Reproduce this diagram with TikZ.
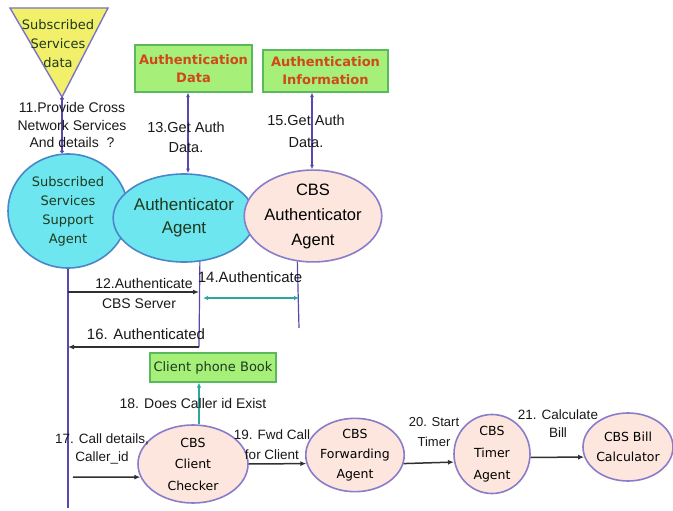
\documentclass[tikz,border=0pt]{standalone}
\usepackage{fontspec}
\setmainfont{Liberation Sans}
\newfontfamily\agentfont{DejaVu Sans}
\usetikzlibrary{arrows.meta,shapes.geometric}

\definecolor{cyanfill}{HTML}{6EE6F0}
\definecolor{cyanedge}{HTML}{4A86C8}
\definecolor{pinkfill}{HTML}{FCE6DE}
\definecolor{pinkedge}{HTML}{8A7CC8}
\definecolor{boxfill}{HTML}{A6F07A}
\definecolor{boxedge}{HTML}{5CB85C}
\definecolor{boxtext}{HTML}{D0481A}
\definecolor{triyellow}{HTML}{F2F06A}
\definecolor{triedge}{HTML}{7A74C4}
\definecolor{linkpurple}{HTML}{5A48B0}
\definecolor{linkteal}{HTML}{2EA6A0}
\definecolor{agenttext}{HTML}{1E3A1E}
\definecolor{msgline}{HTML}{303030}

\tikzset{
  cyanagent/.style={ellipse, draw=cyanedge, fill=cyanfill, line width=1.6pt,
    inner sep=0pt, align=center, text=agenttext},
  pinkagent/.style={ellipse, draw=pinkedge, fill=pinkfill, line width=1.6pt,
    inner sep=0pt, align=center, text=black},
  datastore/.style={rectangle, draw=boxedge, fill=boxfill, line width=1.2pt,
    inner sep=0pt, align=center},
  msglabel/.style={align=center, inner sep=0pt, text=black!90},
  lifeline/.style={draw=linkpurple, line width=1.2pt},
  datalink/.style={draw=linkpurple, line width=1.3pt,
    {Latex[length=4.5pt,width=4pt]}-{Latex[length=4.5pt,width=4pt]}},
  msgarrow/.style={draw=msgline, line width=1.5pt, -{Latex[length=6pt,width=5pt]}},
  tealarrow/.style={draw=linkteal, line width=1.3pt},
}

\begin{document}
\begin{tikzpicture}[x=1pt,y=-1pt]
\useasboundingbox (0,0) rectangle (673,511);

% data store feeding the services agent
\draw[fill=triyellow, draw=triedge, line width=1.4pt]
  (10,8) -- (108,8) -- (62,97) -- cycle;
\coordinate (apex) at (62,97);
\node[msglabel, text=agenttext, font=\agentfont\fontsize{13}{19}\selectfont]
  (tritext) at (58,44) {Subscribed\\Services\\data};

% green data boxes
\node[datastore, minimum width=117pt, minimum height=47pt,
  font=\agentfont\bfseries\fontsize{13}{18}\selectfont, text=boxtext]
  (authdata) at (193.5,68.5) {Authentication\\Data};
\node[datastore, minimum width=125pt, minimum height=42pt,
  font=\agentfont\bfseries\fontsize{13}{18}\selectfont, text=boxtext]
  (authinfo) at (325.5,71) {Authentication\\Information};
\node[datastore, minimum width=126pt, minimum height=29pt,
  font=\agentfont\fontsize{13}{15}\selectfont, text=agenttext]
  (phonebook) at (213,367.5) {Client phone Book};

% agents
\node[cyanagent, minimum width=120pt, minimum height=114pt,
  font=\agentfont\fontsize{13}{19}\selectfont]
  (sssa) at (68,211) {Subscribed\\Services\\Support\\Agent};
\node[cyanagent, minimum width=112pt, minimum height=88pt,
  font=\fontsize{17}{23}\selectfont]
  (auth) at (184,218) {Authenticator\\Agent};
\node[pinkagent, minimum width=126pt, minimum height=82pt,
  font=\fontsize{16.5}{25}\selectfont]
  (cbsauth) at (313,216) {CBS\\Authenticator\\Agent};
\node[pinkagent, minimum width=110pt, minimum height=78pt,
  font=\agentfont\fontsize{12.5}{21.5}\selectfont]
  (checker) at (193,464) {CBS\\Client\\Checker};
\node[pinkagent, minimum width=90pt, minimum height=70pt,
  font=\agentfont\fontsize{12.5}{20}\selectfont]
  (fwd) at (355,455) {CBS\\Forwarding\\Agent};
\node[pinkagent, minimum width=76pt, minimum height=68pt,
  font=\agentfont\fontsize{12.5}{22}\selectfont]
  (timer) at (492,454) {CBS\\Timer\\Agent};
\node[pinkagent, minimum width=90pt, minimum height=68pt,
  font=\agentfont\fontsize{12.5}{20}\selectfont]
  (bill) at (628,447) {CBS Bill\\Calculator};

% guide columns for vertical links
\coordinate (x188) at (188,0);
\coordinate (x312) at (312,0);
\coordinate (x199) at (199,0);

% lifelines
\coordinate (sssaEnd) at (68,508);
\coordinate (authEnd) at (199,347);
\coordinate (cbsEnd) at (299,328);
\draw[lifeline] (sssa.south) -- (sssaEnd);
\draw[lifeline] (auth.-70) -- (authEnd);
\draw[lifeline] (cbsauth.-109) -- (cbsEnd);

% data links
\draw[draw=linkpurple, line width=1.3pt,
  {Circle[length=3.5pt]}-{Circle[length=3.5pt]}]
  (apex) -- (apex |- sssa.north);
\draw[datalink] (authdata.south -| x188) -- (auth.north -| x188);
\draw[datalink] (authinfo.south -| x312) -- (cbsauth.north -| x312);

% messages between lifelines
\coordinate (m12a) at (68,292);
\coordinate (m12b) at (199,292);
\draw[msgarrow] (m12a) -- (m12b);
\coordinate (m14a) at (203,298);
\coordinate (m14b) at (299,298);
\draw[tealarrow, {Latex[length=5pt,width=4.5pt]}-{Latex[length=5pt,width=4.5pt]}]
  (m14a) -- (m14b);
\coordinate (m16a) at (199,347);
\coordinate (m16b) at (68,347);
\draw[msgarrow] (m16a) -- (m16b);

% call handling chain
\draw[tealarrow, -{Latex[length=5pt,width=4.5pt]}]
  (checker.north -| x199) -- (phonebook.south -| x199);
\coordinate (callIn) at (73,477);
\draw[msgarrow] (callIn) -- (checker.-166);
\draw[msgarrow] (checker.east) -- (fwd.-170);
\draw[msgarrow] (fwd.-10) -- (timer.-168);
\draw[msgarrow] (timer.-5) -- (bill.-167);

% message labels
\begin{scope}[every node/.style={msglabel}]
\node[font=\fontsize{14}{17.5}\selectfont] (l11) at (72,125)
  {11.Provide Cross\\Network Services\\And details\ \ ?};
\node[font=\fontsize{14.5}{20}\selectfont] (l13) at (186,137) {13.Get Auth\\Data.};
\node[font=\fontsize{14.5}{22}\selectfont] (l15) at (306,131) {15.Get Auth\\Data.};
\node[font=\fontsize{14}{16}\selectfont] (l12a) at (144,283) {12.Authenticate};
\node[font=\fontsize{14}{16}\selectfont] (l12b) at (139,304) {CBS Server};
\node[font=\fontsize{15}{16}\selectfont] (l14) at (250,277) {14.Authenticate};
\node[font=\fontsize{15}{16}\selectfont] (l16) at (146,334) {16. Authenticated};
\node[font=\fontsize{14}{16}\selectfont] (l18) at (193,403) {18. Does Caller id Exist};
\node[font=\fontsize{13.5}{18}\selectfont] (l17) at (102,449) {17. Call details,\\Caller\_id};
\node[font=\fontsize{13.5}{20}\selectfont] (l19) at (272,445) {19. Fwd Call\\for Client};
\node[font=\fontsize{13}{20}\selectfont] (l20) at (434,432) {20. Start\\Timer};
\node[font=\fontsize{13.5}{18}\selectfont] (l21) at (558,424) {21. Calculate\\Bill};
\end{scope}
\end{tikzpicture}
\end{document}
